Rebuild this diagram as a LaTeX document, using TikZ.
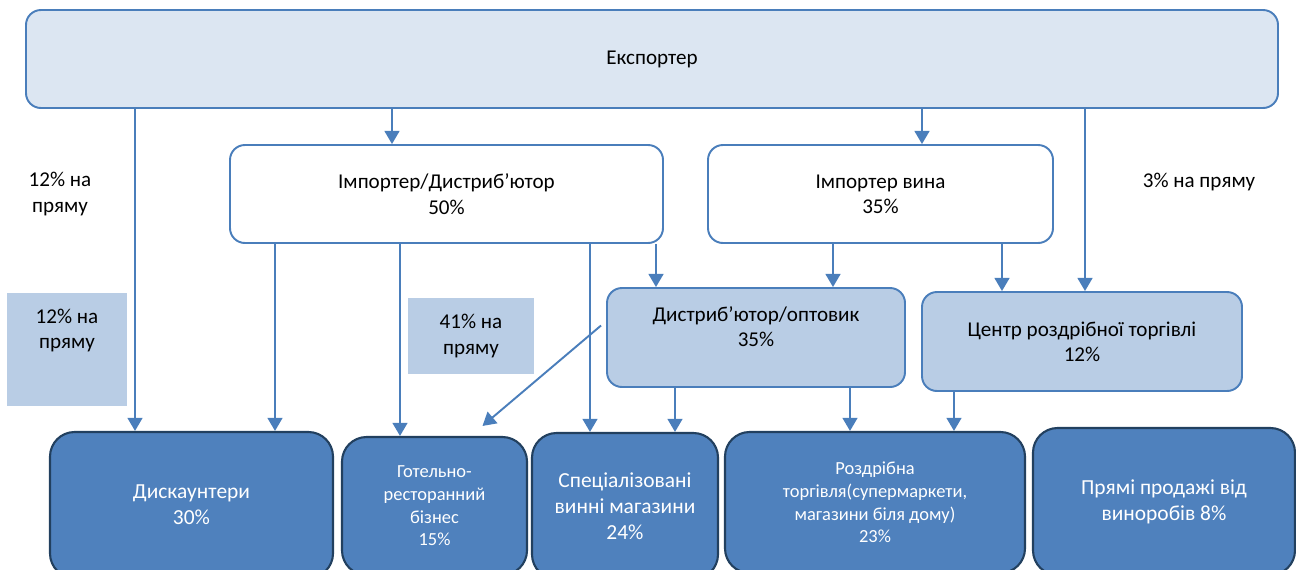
\documentclass[tikz,border=0pt]{standalone}
\usepackage{fontspec}
\setmainfont{Carlito}
\usetikzlibrary{calc,arrows.meta}
\definecolor{lineblue}{HTML}{4A7EBB}
\definecolor{paleblue}{HTML}{DCE6F2}
\definecolor{midblue}{HTML}{B9CDE5}
\definecolor{deepblue}{HTML}{4F81BD}
\definecolor{deepedge}{HTML}{22405F}
\newcommand{\midtxt}{\fontsize{12}{14.4}\selectfont}
\newcommand{\bigtxt}{\fontsize{12.2}{14.7}\selectfont}
\newcommand{\smalltxt}{\fontsize{10.5}{12.9}\selectfont}
\def\px{0.02cm}

\begin{document}
\begin{tikzpicture}[x=\px,y=-\px,
  upbox/.style={draw=lineblue,line width=1.1pt,rounded corners=8.5pt,align=center,inner sep=0pt,font=\midtxt},
  lowbox/.style={draw=deepedge,fill=deepblue,line width=1.2pt,rounded corners=14pt,align=center,inner sep=0pt,text=white},
  flow/.style={draw=lineblue,line width=1.1pt,-{Triangle[width=8.5pt,length=7.5pt]}},
  note/.style={align=center,font=\midtxt,inner sep=0pt}]

\useasboundingbox (0,0) rectangle (1296,569);
\clip (0,0) rectangle (1296,569);

% EXPORTER
\node[upbox,fill=paleblue,minimum width=1252*\px,minimum height=98*\px] (exp) at (652,59) {Експортер};

% IMPORTERS
\node[upbox,fill=white,minimum width=433*\px,minimum height=98*\px] (impdist) at (446.5,194) {Імпортер/Дистриб’ютор\\50\%};
\node[upbox,fill=white,minimum width=345*\px,minimum height=98*\px] (impwine) at (880.5,194) {Імпортер вина\\35\%};

% DISTRIBUTION
\node[upbox,fill=midblue,minimum width=298*\px,minimum height=99*\px,text depth=12.7pt] (distr) at (756,337.5) {Дистриб’ютор/оптовик\\35\%};
\node[upbox,fill=midblue,minimum width=320*\px,minimum height=99*\px] (retc) at (1082,341.5) {Центр роздрібної торгівлі\\12\%};

% OUTLETS
\node[lowbox,font=\bigtxt,minimum width=283*\px,minimum height=146*\px] (disc) at (191.5,505) {Дискаунтери\\30\%};
\node[lowbox,font=\smalltxt,minimum width=185*\px,minimum height=138*\px] (hotel) at (434.5,506) {Готельно-\\ресторанний\\бізнес\\15\%};
\node[lowbox,font=\bigtxt,minimum width=186*\px,minimum height=146*\px] (spec) at (625,506) {Спеціалізовані\\винні магазини\\24\%};
\node[lowbox,font=\smalltxt,minimum width=300*\px,minimum height=141*\px] (retail) at (875,502.5) {Роздрібна\\торгівля(супермаркети,\\магазини біля дому)\\23\%};
\node[lowbox,font=\bigtxt,minimum width=262*\px,minimum height=147*\px] (direct) at (1164,501.5) {Прямі продажі від\\виноробів 8\%};

% SHARES
\node[note] (sharea) at (60,194) {12\% на\\пряму};
\node[note,fill=midblue,minimum width=120*\px,minimum height=113*\px,text depth=23.5pt] (shareb) at (67,349.5) {12\% на\\пряму};
\node[note,fill=midblue,minimum width=126*\px,minimum height=76*\px] (sharec) at (471,336) {41\% на\\пряму};
\node[note] (shared) at (1199,182) {3\% на пряму};

% FLOWS
\draw[flow] (exp.south -| 392,0) -- (impdist.north -| 392,0);
\draw[flow] (exp.south -| 922,0) -- (impwine.north -| 922,0);
\draw[flow] (exp.south -| 135,0) -- (disc.north -| 135,0);
\draw[flow] (exp.south -| 1085,0) -- (retc.north -| 1085,0);
\draw[flow] (impdist.south -| 275,0) -- (disc.north -| 275,0);
\draw[flow] (impdist.south -| 400,0) -- (hotel.north -| 400,0);
\draw[flow] (impdist.south -| 590,0) -- (spec.north -| 590,0);
\draw[flow] (impdist.south -| 656,0) -- (distr.north -| 656,0);
\draw[flow] (impwine.south -| 833,0) -- (distr.north -| 833,0);
\draw[flow] (impwine.south -| 1002,0) -- (retc.north -| 1002,0);
\draw[flow] (distr.south -| 675,0) -- (spec.north -| 675,0);
\draw[flow] (distr.south -| 850,0) -- (retail.north -| 850,0);
\draw[flow] (retc.south -| 954,0) -- (retail.north -| 954,0);
\draw[flow] ($(distr.west)+(-5,-12)$) -- ($(hotel.north)+(48,-10)$);
\end{tikzpicture}
\end{document}
